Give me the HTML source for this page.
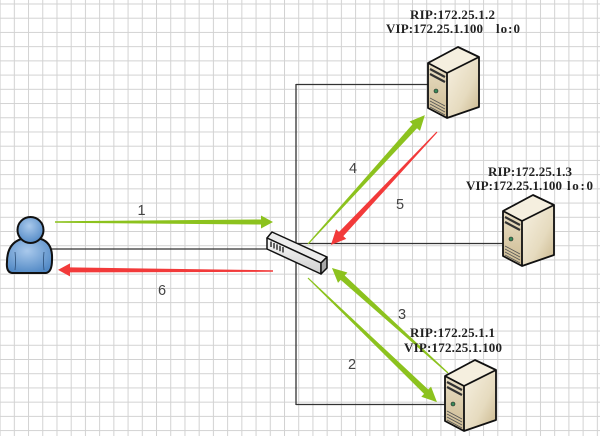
<!DOCTYPE html>
<html><head><meta charset="utf-8"><style>
html,body{margin:0;padding:0;background:#fff;}
svg{display:block;}
</style></head><body>
<svg width="600" height="436" viewBox="0 0 600 436" xmlns="http://www.w3.org/2000/svg">
<defs>
<pattern id="grid" x="-0.4" y="3.5" width="14.22" height="14.22" patternUnits="userSpaceOnUse">
<path d="M0 0.5H14.22M0.5 0V14.22" stroke="#d2d2d2" stroke-width="1" fill="none"/>
</pattern>
<linearGradient id="sside" x1="0" y1="0" x2="1" y2="1">
<stop offset="0" stop-color="#f7f1e2"/><stop offset="0.6" stop-color="#e6dbbf"/><stop offset="1" stop-color="#c9b68c"/>
</linearGradient>
<linearGradient id="sfront" x1="0" y1="0" x2="0" y2="1">
<stop offset="0" stop-color="#e9dec4"/><stop offset="1" stop-color="#cdbb93"/>
</linearGradient>
<radialGradient id="blue" cx="0.45" cy="0.35" r="0.7">
<stop offset="0" stop-color="#a9c9ec"/><stop offset="1" stop-color="#4f87c4"/>
</radialGradient>
<linearGradient id="swf" x1="0" y1="0" x2="0" y2="1">
<stop offset="0" stop-color="#fafafa"/><stop offset="1" stop-color="#cfcfcf"/>
</linearGradient>
<g id="server">
<polygon points="0,16 30,0 51,10 19,26" fill="#f5efdf"/>
<polygon points="0,16 19,26 19,71 0,61" fill="url(#sfront)"/>
<polygon points="19,26 51,10 51,60 19,71" fill="url(#sside)"/>
<path d="M2,22 L17,30 M2,27 L17,35" stroke="#333" stroke-width="2.2"/>
<path d="M2,51 L17,59 M2,54 L17,62 M2,57 L17,65 M2,60 L17,68" stroke="#555" stroke-width="0.8"/>
<circle cx="8" cy="44" r="2" fill="#3b8a5a" stroke="#222" stroke-width="0.6"/>
<path d="M0,16 L30,0 L51,10 L51,60 L19,71 L0,61 Z M0,16 L19,26 L51,10 M19,26 L19,71" fill="none" stroke="#111" stroke-width="1.8" stroke-linejoin="round"/>
</g>
</defs>
<rect width="600" height="436" fill="#fff"/>
<rect width="600" height="436" fill="url(#grid)"/>

<!-- connectors -->
<g stroke="#333" stroke-width="1.3" fill="none">
<line x1="51" y1="249" x2="269" y2="249"/>
<line x1="296" y1="84" x2="296" y2="405"/>
<line x1="296" y1="84.5" x2="436" y2="84.5"/>
<line x1="296" y1="243.5" x2="514" y2="243.5"/>
<line x1="296" y1="404.5" x2="454" y2="404.5"/>
</g>

<!-- servers -->
<use href="#server" x="428" y="47"/>
<use href="#server" x="503" y="195"/>
<use href="#server" x="445" y="360"/>

<!-- switch -->
<g stroke="#111" stroke-width="1.5" stroke-linejoin="round">
<polygon points="267,238 272,232 327,257 321,263" fill="#ececec"/>
<polygon points="267,238 321,263 321,274 267,249" fill="url(#swf)"/>
<polygon points="321,263 327,257 327,268 321,274" fill="#a8a8a8"/>
</g>
<g stroke="#333" stroke-width="1.5">
<line x1="271" y1="241.5" x2="271" y2="247"/>
<line x1="274" y1="243" x2="274" y2="248.5"/>
<line x1="277" y1="244.3" x2="277" y2="249.8"/>
<line x1="280" y1="245.7" x2="280" y2="251.2"/>
<line x1="283" y1="247" x2="283" y2="252.5"/>
</g>

<!-- person -->
<g stroke="#111" stroke-width="2" stroke-linejoin="round">
<path d="M12 273 Q6 272 7 262 Q7 244 21 239 L41 239 Q53 243 52 260 Q52 272 46 273 Z" fill="url(#blue)"/>
<circle cx="30.5" cy="230" r="13" fill="url(#blue)"/>
</g>
<path d="M15 252 Q16 262 15 270 M44 252 Q43 262 44 270" stroke="#2c4f78" stroke-width="0.8" fill="none"/>

<!-- arrows -->
<g fill="#8cc21e">
<g transform="translate(55,222)"><polygon points="0,-0.8 206,-2.5 206,-6.5 218,0 206,6.5 206,2.5 0,0.8"/></g>
<g transform="translate(308,244) rotate(-47.8)"><polygon points="0,-0.6 159,-3 159,-7 174,0 159,7 159,3 0,0.6"/></g>
<g transform="translate(308,278) rotate(43.9)"><polygon points="0,-0.6 164,-3 164,-7 179,0 164,7 164,3 0,0.6"/></g>
<g transform="translate(448,373) rotate(-137.85)"><polygon points="0,-0.6 142,-3 142,-7 156.5,0 142,7 142,3 0,0.6"/></g>
</g>
<g fill="#f23a3a">
<g transform="translate(273,271) rotate(180.3)"><polygon points="0,-0.8 203,-2.5 203,-6.5 215,0 203,6.5 203,2.5 0,0.8"/></g>
<g transform="translate(437,132) rotate(133.2)"><polygon points="0,-0.6 140,-3 140,-7 155,0 140,7 140,3 0,0.6"/></g>
</g>

<!-- number labels -->
<g font-family="'Liberation Sans', sans-serif" font-size="14.5" fill="#444" text-anchor="middle">
<text x="141.5" y="215">1</text>
<text x="162" y="295">6</text>
<text x="353" y="173">4</text>
<text x="400" y="209">5</text>
<text x="402" y="319">3</text>
<text x="352" y="369">2</text>
</g>

<!-- server labels -->
<g font-family="'Liberation Serif', serif" font-weight="bold" font-size="13" fill="#222">
<text x="410" y="19" textLength="85" lengthAdjust="spacing">RIP:172.25.1.2</text>
<text x="386" y="33" textLength="97" lengthAdjust="spacing">VIP:172.25.1.100</text>
<text x="496" y="33" textLength="24" lengthAdjust="spacing">lo:0</text>
<text x="488" y="176" textLength="84" lengthAdjust="spacing">RIP:172.25.1.3</text>
<text x="466" y="190" textLength="96" lengthAdjust="spacing">VIP:172.25.1.100</text>
<text x="567" y="190" textLength="26" lengthAdjust="spacing">lo:0</text>
<text x="410" y="337" textLength="85" lengthAdjust="spacing">RIP:172.25.1.1</text>
<text x="404" y="352" textLength="98" lengthAdjust="spacing">VIP:172.25.1.100</text>
</g>
</svg>
</body></html>
